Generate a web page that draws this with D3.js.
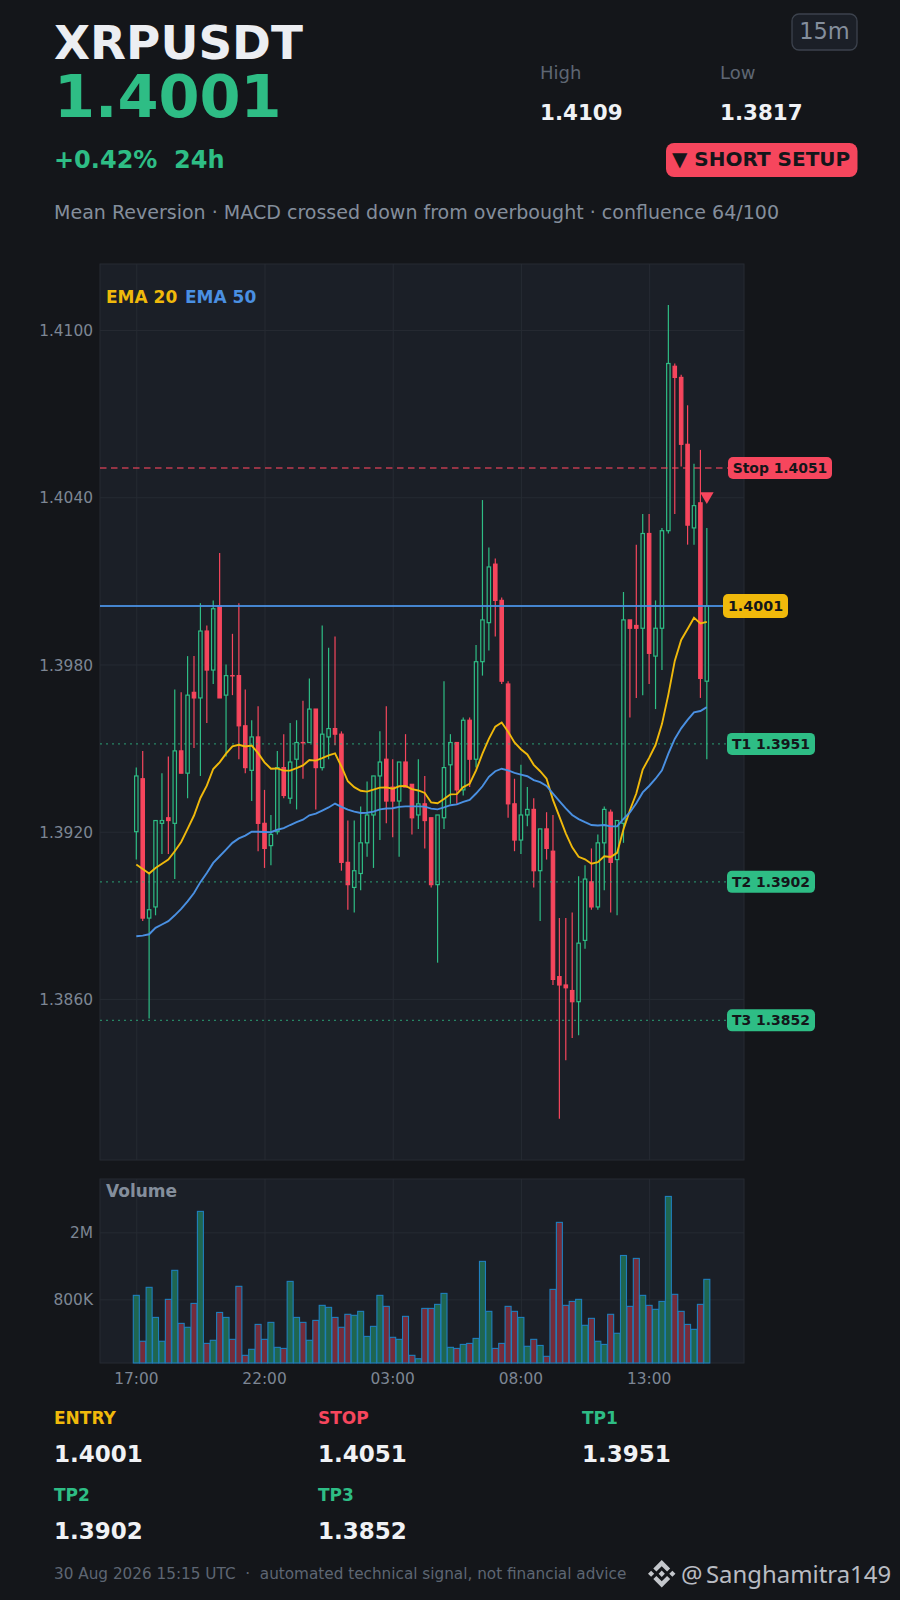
<!DOCTYPE html>
<html>
<head>
<meta charset="utf-8">
<title>XRPUSDT</title>
<script src="https://cdn.jsdelivr.net/npm/d3@7"></script>
<style>
  html, body { margin: 0; padding: 0; background: #14161a; }
  svg { display: block; font-family: "DejaVu Sans", sans-serif; }
</style>
</head>
<body>
<div id="chart"></div>
<script>
// ---------------------------------------
// 1. Data
// ---------------------------------------
const opens = [1.3920,1.3939,1.3889,1.3893,1.3923,1.3925,1.3923,1.3949,1.3941,1.3970,
  1.3968,1.3992,1.3978,1.4001,1.3969,1.3976,1.3976,1.3958,1.3942,1.3954,
  1.3923,1.3915,1.3920,1.3943,1.3932,1.3946,1.3952,1.3952,1.3964,1.3943,
  1.3954,1.3957,1.3955,1.3909,1.3900,1.3905,1.3916,1.3926,1.3940,1.3946,
  1.3936,1.3931,1.3945,1.3937,1.3926,1.3930,1.3925,1.3901,1.3925,1.3944,
  1.3952,1.3935,1.3960,1.3946,1.3981,1.3995,1.4016,1.4003,1.3973,1.3930,
  1.3917,1.3926,1.3928,1.3906,1.3921,1.3913,1.3868,1.3865,1.3863,1.3859,
  1.3881,1.3902,1.3893,1.3916,1.3927,1.3910,1.3923,1.3996,1.3994,1.3993,
  1.4027,1.3983,1.3993,1.4028,1.4087,1.4083,1.4059,1.4029,1.4038,1.3974];
const highs = [1.3943,1.3949,1.3905,1.3924,1.3941,1.3947,1.3971,1.3970,1.3983,1.3983,
  1.4002,1.3994,1.4003,1.4020,1.3980,1.3991,1.4002,1.3971,1.3960,1.3965,
  1.3935,1.3926,1.3949,1.3955,1.3959,1.3960,1.3967,1.3975,1.3964,1.3994,
  1.3986,1.3990,1.3956,1.3924,1.3924,1.3929,1.3938,1.3940,1.3956,1.3965,
  1.3946,1.3945,1.3955,1.3937,1.3946,1.3940,1.3925,1.3926,1.3974,1.3955,
  1.3952,1.3961,1.3961,1.3987,1.4039,1.4022,1.4018,1.4004,1.3974,1.3939,
  1.3944,1.3936,1.3932,1.3921,1.3927,1.3926,1.3889,1.3889,1.3891,1.3904,
  1.3908,1.3914,1.3919,1.3929,1.3928,1.3924,1.4006,1.3996,1.4023,1.4034,
  1.4034,1.4003,1.4029,1.4109,1.4088,1.4084,1.4073,1.4052,1.4057,1.4029];
const lows = [1.3910,1.3888,1.3853,1.3890,1.3912,1.3912,1.3903,1.3941,1.3932,1.3950,
  1.3940,1.3959,1.3973,1.3968,1.3947,1.3969,1.3946,1.3941,1.3931,1.3913,
  1.3907,1.3908,1.3919,1.3932,1.3930,1.3928,1.3939,1.3952,1.3928,1.3942,
  1.3946,1.3951,1.3906,1.3892,1.3891,1.3899,1.3911,1.3907,1.3917,1.3923,
  1.3918,1.3911,1.3936,1.3919,1.3921,1.3914,1.3900,1.3873,1.3921,1.3930,
  1.3930,1.3933,1.3936,1.3943,1.3976,1.3985,1.3990,1.3973,1.3925,1.3913,
  1.3912,1.3922,1.3900,1.3888,1.3910,1.3865,1.3817,1.3838,1.3846,1.3847,
  1.3878,1.3892,1.3892,1.3899,1.3891,1.3890,1.3916,1.3961,1.3968,1.3969,
  1.3973,1.3964,1.3978,1.4027,1.4034,1.4051,1.4023,1.4023,1.3968,1.3946];
const closes = [1.3940,1.3889,1.3892,1.3924,1.3924,1.3924,1.3949,1.3941,1.3969,1.3968,
  1.3992,1.3978,1.4000,1.3968,1.3976,1.39759,1.3958,1.3943,1.3954,1.3923,
  1.3914,1.3919,1.3943,1.3933,1.3945,1.3952,1.39519,1.3964,1.3943,1.3955,
  1.3957,1.3955,1.3909,1.3901,1.3906,1.3916,1.3926,1.3940,1.3945,1.3931,
  1.3931,1.3945,1.3936,1.3925,1.3930,1.3924,1.3901,1.3926,1.3943,1.3952,
  1.3935,1.3960,1.3946,1.3981,1.3996,1.4015,1.4003,1.3974,1.3930,1.3917,
  1.3926,1.3928,1.3906,1.3921,1.3914,1.3867,1.3865,1.3864,1.3859,1.3880,
  1.3903,1.3893,1.3916,1.3928,1.3909,1.3924,1.3996,1.3993,1.3993,1.4027,
  1.3984,1.3993,1.4028,1.4088,1.4083,1.4059,1.4030,1.4037,1.3975,1.4001];
const volumes = [845,451,943,625,451,800,1190,576,546,757,
  2665,438,457,669,625,463,956,372,404,568,
  463,584,415,409,1023,625,584,457,600,737,
  717,625,546,652,643,679,482,553,845,727,
  476,463,634,372,355,707,707,747,868,415,
  409,432,438,469,1345,679,409,438,727,679,
  625,421,463,426,367,917,2293,737,778,800,
  561,617,451,432,652,503,1458,727,1401,845,
  737,698,778,3270,857,679,568,531,747,1052].map(d => d * 1000);
const ema20 = [1.39082,1.39066,1.39050,1.39070,1.39085,1.39100,1.39130,1.39163,1.39210,1.39258,
  1.39321,1.39365,1.39425,1.39449,1.39480,1.39506,1.39512,1.39506,1.39509,1.39482,
  1.39449,1.39426,1.39427,1.39419,1.39419,1.39428,1.39438,1.39457,1.39455,1.39464,
  1.39474,1.39481,1.39434,1.39381,1.39360,1.39347,1.39344,1.39351,1.39358,1.39359,
  1.39354,1.39363,1.39364,1.39353,1.39348,1.39339,1.39305,1.39302,1.39317,1.39334,
  1.39335,1.39360,1.39372,1.39420,1.39480,1.39533,1.39577,1.39592,1.39559,1.39520,
  1.39496,1.39477,1.39440,1.39417,1.39390,1.39314,1.39254,1.39194,1.39144,1.39110,
  1.39101,1.39085,1.39091,1.39112,1.39109,1.39124,1.39209,1.39277,1.39337,1.39423,
  1.39465,1.39511,1.39586,1.39692,1.39813,1.39888,1.39927,1.39968,1.39947,1.39953];
const ema50 = [1.38825,1.38827,1.38832,1.38855,1.38867,1.38879,1.38900,1.38923,1.38950,1.38980,
  1.39019,1.39052,1.39088,1.39112,1.39136,1.39160,1.39176,1.39186,1.39200,1.39200,
  1.39199,1.39198,1.39207,1.39213,1.39224,1.39234,1.39243,1.39259,1.39265,1.39276,
  1.39287,1.39301,1.39289,1.39279,1.39272,1.39267,1.39268,1.39272,1.39280,1.39283,
  1.39284,1.39289,1.39291,1.39291,1.39291,1.39290,1.39283,1.39280,1.39287,1.39295,
  1.39298,1.39307,1.39314,1.39337,1.39363,1.39397,1.39417,1.39426,1.39420,1.39411,
  1.39405,1.39399,1.39385,1.39378,1.39364,1.39337,1.39310,1.39284,1.39260,1.39245,
  1.39234,1.39224,1.39222,1.39224,1.39219,1.39219,1.39246,1.39269,1.39302,1.39341,
  1.39364,1.39390,1.39420,1.39480,1.39533,1.39571,1.39601,1.39628,1.39633,1.39647];

const priceTicks = [1.4100, 1.4040, 1.3980, 1.3920, 1.3860];
const volumeTicks = [2000000, 800000];
const volumeTickLabels = ["2M", "800K"];
const timeTickIndex = [0, 20, 40, 60, 80];
const timeTickLabels = ["17:00", "22:00", "03:00", "08:00", "13:00"];

const targetNames = ["T1", "T2", "T3"];
const targetLevels = [1.39515, 1.3902, 1.38523];
const targetTexts = ["1.3951", "1.3902", "1.3852"];
const entryLevel = 1.4001;
const stopLevel = 1.40505;
const signalIndex = 89;
const signalPrice = 1.40404;

const statNames = ["ENTRY", "STOP", "TP1", "TP2", "TP3"];
const statValues = ["1.4001", "1.4051", "1.3951", "1.3902", "1.3852"];

// ---------------------------------------
// 2. Colours and scales
// ---------------------------------------
const colorBg = "#14161a";
const colorPanel = "#1b1f27";
const colorGrid = "#262b33";
const colorGreen = "#2ebd85";
const colorRed = "#f6465d";
const colorYellow = "#f0b90b";
const colorBlue = "#4a90e2";
const colorMuted = "#848e9c";
const colorDim = "#5e6673";
const colorWhite = "#f0f2f5";
const colorDark = "#14161a";

const width = 900;
const height = 1600;
const left = 100, right = 744;
const priceTop = 264, priceBottom = 1160;
const volTop = 1179, volBottom = 1363;

const svg = d3.select("#chart").append("svg")
  .attr("width", width)
  .attr("height", height);

svg.append("rect").attr("width", width).attr("height", height).attr("fill", colorBg);

const x = d3.scaleLinear().domain([-5.663, 94.8]).range([left, right]);
const y = d3.scaleLinear().domain([1.38022, 1.41237]).range([priceBottom, priceTop]);
const yVol = d3.scaleLog().domain([335000, 4150000]).range([volBottom, volTop]);

function text(t, px, py, size, color, weight, anchor, family) {
  return svg.append("text")
    .attr("x", px).attr("y", py)
    .attr("font-size", size)
    .attr("fill", color)
    .attr("font-weight", weight || "normal")
    .attr("text-anchor", anchor || "start")
    .attr("font-family", family || null)
    .text(t);
}

// ---------------------------------------
// 3. Header
// ---------------------------------------
text("XRPUSDT", 54, 59, 46.8, "#eceef2", "bold");
text("1.4001", 54, 117, 59, colorGreen, "bold");
text("+0.42%  24h", 54, 168, 24, colorGreen, "bold").style("white-space", "pre");
text("Mean Reversion · MACD crossed down from overbought · confluence 64/100", 54, 219, 19.05, colorMuted);
text("High", 540, 79, 18, colorDim);
text("Low", 720, 79, 18, colorDim);
text("1.4109", 540, 120, 21.4, colorWhite, "bold");
text("1.3817", 720, 120, 21.4, colorWhite, "bold");

svg.append("rect").attr("x", 792).attr("y", 14).attr("width", 65).attr("height", 36).attr("rx", 7)
  .attr("fill", "#1b1f27").attr("stroke", "#3c424d").attr("stroke-width", 1.3);
text("15m", 824.5, 39, 22.5, colorMuted, "normal", "middle");

svg.append("rect").attr("x", 666).attr("y", 143).attr("width", 191.5).attr("height", 34).attr("rx", 8)
  .attr("fill", colorRed);
text("▼ SHORT SETUP", 672, 166, 20, colorDark, "bold");

// ---------------------------------------
// 4. Panels, grid and axes
// ---------------------------------------
function panel(top, bottom) {
  svg.append("rect")
    .attr("x", left).attr("y", top)
    .attr("width", right - left).attr("height", bottom - top)
    .attr("fill", colorPanel).attr("stroke", colorGrid).attr("stroke-width", 1);
}
panel(priceTop, priceBottom);
panel(volTop, volBottom);

function styleAxis(g) {
  g.select(".domain").remove();
  g.selectAll(".tick line").attr("stroke", colorGrid).attr("stroke-width", 1);
  g.selectAll(".tick text").attr("fill", "#7d8694").attr("font-size", 15.4)
    .attr("font-family", '"DejaVu Sans", sans-serif');
}

svg.append("g").attr("transform", `translate(${left},0)`)
  .call(d3.axisLeft(y).tickValues(priceTicks).tickFormat(d3.format(".4f"))
    .tickSize(-(right - left)).tickPadding(7))
  .call(styleAxis)
  .selectAll(".tick text").attr("dy", "0.36em");

svg.append("g").attr("transform", `translate(${left},0)`)
  .call(d3.axisLeft(yVol).tickValues(volumeTicks).tickFormat((d, i) => volumeTickLabels[i])
    .tickSize(-(right - left)).tickPadding(7))
  .call(styleAxis)
  .selectAll(".tick text").attr("dy", "0.36em");

svg.append("g").attr("transform", `translate(0,${priceBottom})`)
  .call(d3.axisBottom(x).tickValues(timeTickIndex).tickFormat("")
    .tickSize(priceTop - priceBottom))
  .call(styleAxis);

svg.append("g").attr("transform", `translate(0,${volBottom})`)
  .call(d3.axisBottom(x).tickValues(timeTickIndex).tickFormat((d, i) => timeTickLabels[i])
    .tickSize(volTop - volBottom).tickPadding(5))
  .call(styleAxis)
  .selectAll(".tick text").attr("dy", "16px").attr("dx", "-0.5px");

// ---------------------------------------
// 5. Candles
// ---------------------------------------
const candles = opens.map((o, i) => ({
  i, o, h: highs[i], l: lows[i], c: closes[i], v: volumes[i], up: closes[i] >= o
}));

const candle = svg.append("g").selectAll("g")
  .data(candles)
  .enter().append("g");

candle.append("line")
  .attr("x1", d => x(d.i)).attr("x2", d => x(d.i))
  .attr("y1", d => y(d.h)).attr("y2", d => y(d.l))
  .attr("stroke", d => d.up ? colorGreen : colorRed)
  .attr("stroke-width", 1.2);

candle.append("rect")
  .attr("x", d => x(d.i) - 1.7)
  .attr("width", 3.4)
  .attr("y", d => y(Math.max(d.o, d.c)))
  .attr("height", d => Math.abs(y(d.o) - y(d.c)))
  .attr("fill", d => d.up ? colorPanel : colorRed)
  .attr("stroke", d => d.up ? colorGreen : colorRed)
  .attr("stroke-width", 1.2);

// ---------------------------------------
// 6. Level lines
// ---------------------------------------
svg.append("line")
  .attr("x1", left).attr("x2", 728)
  .attr("y1", y(stopLevel)).attr("y2", y(stopLevel))
  .attr("stroke", colorRed).attr("stroke-opacity", 0.75).attr("stroke-width", 1.4)
  .attr("stroke-dasharray", "6.5,4.5");

svg.selectAll(".target").data(targetLevels).enter().append("line")
  .attr("x1", left).attr("x2", 727)
  .attr("y1", d => y(d)).attr("y2", d => y(d))
  .attr("stroke", colorGreen).attr("stroke-opacity", 0.65).attr("stroke-width", 1.4)
  .attr("stroke-dasharray", "2,4");

svg.append("line")
  .attr("x1", left).attr("x2", 723)
  .attr("y1", y(entryLevel)).attr("y2", y(entryLevel))
  .attr("stroke", colorBlue).attr("stroke-opacity", 0.9).attr("stroke-width", 1.9);

// ---------------------------------------
// 7. EMA lines and signal marker
// ---------------------------------------
const emaLine = d3.line().x((d, i) => x(i)).y(d => y(d));
svg.append("path").attr("d", emaLine(ema20)).attr("fill", "none")
  .attr("stroke", colorYellow).attr("stroke-width", 1.9);
svg.append("path").attr("d", emaLine(ema50)).attr("fill", "none")
  .attr("stroke", colorBlue).attr("stroke-width", 1.9);

svg.append("path")
  .attr("d", d3.symbol().type(d3.symbolTriangle).size(80))
  .attr("transform", `translate(${x(signalIndex)},${y(signalPrice)}) rotate(180)`)
  .attr("fill", colorRed);

text("EMA 20", 106, 303, 17, colorYellow, "bold");
text("EMA 50", 185, 303, 17, colorBlue, "bold");
text("Volume", 106, 1197, 17, colorMuted, "bold");

// ---------------------------------------
// 8. Price labels on the right
// ---------------------------------------
function priceLabel(t, level, x0, x1, fill, size, h) {
  const cy = y(level);
  svg.append("rect")
    .attr("x", x0).attr("y", cy - h / 2)
    .attr("width", x1 - x0).attr("height", h).attr("rx", 5)
    .attr("fill", fill);
  text(t, (x0 + x1) / 2, cy + 4.8, size, colorDark, "bold", "middle");
}
priceLabel("1.4001", entryLevel, 723, 788, colorYellow, 14.3, 24);
priceLabel("Stop 1.4051", stopLevel, 728, 832, colorRed, 13.9, 22);
targetLevels.forEach((d, i) => {
  priceLabel(`${targetNames[i]} ${targetTexts[i]}`, d, 727, 815, colorGreen, 14, 22);
});

// ---------------------------------------
// 9. Volume bars
// ---------------------------------------
svg.append("g").selectAll("rect")
  .data(candles)
  .enter().append("rect")
  .attr("x", d => x(d.i) - 3)
  .attr("width", 6)
  .attr("y", d => yVol(d.v))
  .attr("height", d => volBottom - yVol(d.v))
  .attr("fill", d => d.up ? "#1f6650" : "#742c3b")
  .attr("stroke", "#1f7fbd")
  .attr("stroke-width", 1.1);

// ---------------------------------------
// 10. Footer stats
// ---------------------------------------
const statX = [54, 318, 582, 54, 318];
const statY = [1424, 1424, 1424, 1501, 1501];
const statColor = [colorYellow, colorRed, colorGreen, colorGreen, colorGreen];
statNames.forEach((name, i) => {
  text(name, statX[i], statY[i], 17, statColor[i], "bold");
  text(statValues[i], statX[i], statY[i] + 38, 23, colorWhite, "bold");
});

text("30 Aug 2026 15:15 UTC  ·  automated technical signal, not financial advice", 54, 1579, 15.25, colorDim)
  .style("white-space", "pre");

// Binance mark
svg.append("path")
  .attr("transform", "translate(648,1560) scale(0.217)")
  .attr("fill", "#c4c7cc")
  .attr("d", "M38.73 53.2l24.59-24.58 24.6 24.6 14.3-14.31L63.32 0 24.42 38.9l14.31 14.3zM0 63.31l14.3-14.31 14.31 14.31-14.31 14.3L0 63.31zM38.73 73.41l24.59 24.59 24.6-24.6 14.31 14.29-38.9 38.91-38.91-38.88-.02-.02 14.33-14.29zM98 63.31l14.3-14.31 14.31 14.3-14.31 14.32L98 63.31zM77.83 63.3L63.32 48.78 52.59 59.51l-1.24 1.23-2.54 2.54 14.51 14.5 14.51-14.47z");
text("@", 681, 1583, 23.9, "#b9bcc2", "normal", "start", '"Noto Sans", sans-serif');
text("Sanghamitra149", 706, 1583, 23.9, "#b9bcc2", "normal", "start", '"Noto Sans", sans-serif');
</script>
</body>
</html>
